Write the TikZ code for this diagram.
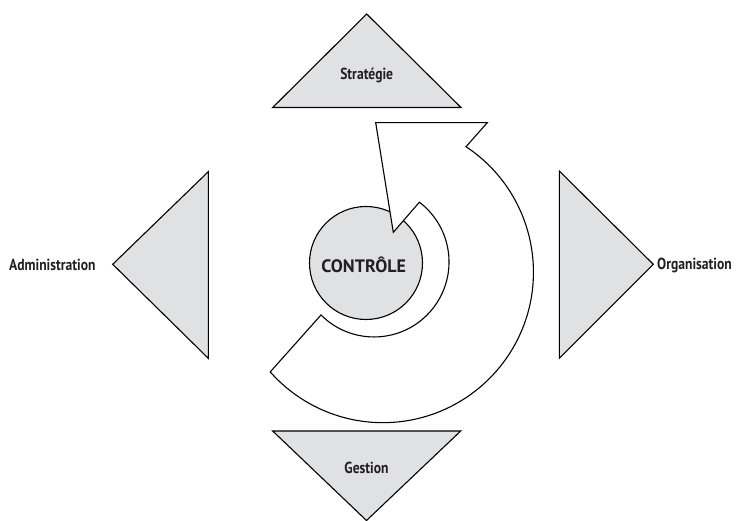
\documentclass[tikz,border=0pt]{standalone}
\usepackage{fontspec}
\setmainfont{PT Sans}
\newfontfamily\condfont[FakeStretch=0.85]{PT Sans}
\definecolor{shapegray}{RGB}{224,225,227}
\definecolor{inkgray}{RGB}{35,31,32}
\tikzset{
  shapebox/.style={draw=black, fill=shapegray, line width=1.1pt, line join=miter},
  ringarrow/.style={draw=black, fill=white, line width=1.1pt, line join=miter},
  lbl/.style={inner sep=0pt, font=\condfont\bfseries\fontsize{16}{18}\selectfont, text=inkgray},
  ctrl/.style={inner sep=0pt, font=\bfseries\fontsize{18}{20}\selectfont, text=inkgray}
}
\begin{document}
\begin{tikzpicture}[x=1pt,y=1pt]
\useasboundingbox (0,0) rectangle (744,521);
% triangles
\path[shapebox] (366.7,507) -- (461,413.5) -- (272.7,413.5) -- cycle;
\path[shapebox] (366.5,0.5) -- (460.7,90) -- (272.7,90) -- cycle;
\path[shapebox] (112.7,256.7) -- (208.3,349.3) -- (208.3,162.7) -- cycle;
\path[shapebox] (653.3,256.7) -- (559.3,350) -- (559.3,162.7) -- cycle;
% central circle
\node[circle, shapebox, minimum size=113pt, inner sep=0pt] (ctrlc) at (366,258) {};
% ring arrow
\path[ringarrow] (466,374.3)
  arc[start angle=56.5, end angle=-138.5, radius=150.5]
  -- (321,206)
  arc[start angle=-135, end angle=52.8, radius=75]
  -- (393.3,288.7) -- (375.7,398.3) -- (487.3,398.3) -- cycle;
% labels
\node[ctrl, anchor=base] (ctrltxt) at (363.7,248.3) {CONTRÔLE};
\node[lbl, anchor=base] (strat) at (366.7,441) {Stratégie};
\node[lbl, anchor=base] (gest) at (366.5,47) {Gestion};
\node[lbl, anchor=base east] (admin) at (95.7,250.3) {Administration};
\node[lbl, anchor=base west] (orga) at (657,251) {Organisation};
\end{tikzpicture}
\end{document}
